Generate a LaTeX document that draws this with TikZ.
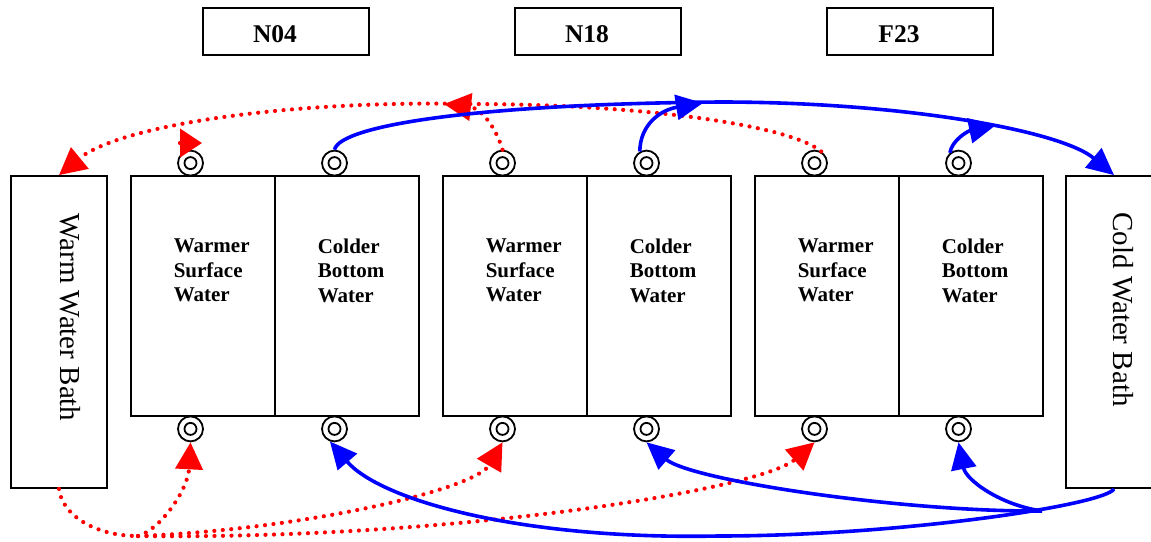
\documentclass[tikz,border=0pt]{standalone}
\usepackage{fontspec}
\setmainfont{Liberation Serif}
\usetikzlibrary{arrows.meta}
\begin{document}
\begin{tikzpicture}[x=1pt,y=-1pt,
		chamber/.style={draw,line width=1.8pt,inner sep=0pt,minimum width=144pt,minimum height=240pt},
		bath/.style={draw,line width=1.8pt,inner sep=0pt,minimum width=96pt,minimum height=312pt},
		port/.style={circle,draw,fill=white,line width=1.8pt,minimum size=25pt,inner sep=0pt,
			path picture={\draw[line width=1.8pt] (path picture bounding box.center) circle (6pt);}},
		tagbox/.style={draw,line width=1.8pt,inner sep=0pt,minimum width=166pt,minimum height=47pt},
		tagtext/.style={anchor=base,inner sep=0pt,font=\fontsize{25.5}{30}\selectfont\bfseries},
		chtext/.style={anchor=north west,inner sep=0pt,align=left,font=\fontsize{21}{24.5}\selectfont\bfseries},
		bathtext/.style={rotate=-90,anchor=base,inner sep=0pt,font=\fontsize{29}{34}\selectfont},
		redflow/.style={red,line width=4.2pt,dash pattern=on 0pt off 8.5pt,line cap=round,-{Triangle[length=27pt,width=27pt]}},
		blueflow/.style={blue,line width=3.6pt,-{Triangle[length=27pt,width=25pt]}}]
				\useasboundingbox (0,0) rectangle (1151,541);
				
				\node[tagbox] (n04) at (286,31.5) {};
				\node[tagbox] (n18) at (598,31.5) {};
				\node[tagbox] (f23) at (910,31.5) {};
				\node[tagtext] at ([xshift=-11pt,yshift=-10.5pt]n04.center) {N04};
				\node[tagtext] at ([xshift=-11pt,yshift=-10.5pt]n18.center) {N18};
				\node[tagtext] at ([xshift=-11pt,yshift=-10.5pt]f23.center) {F23};
				
				\node[bath] (warm) at (59,332) {};
				\node[bath] (cold) at (1114,332) {};
				\node[bathtext] at ([xshift=1pt,yshift=14.5pt]warm.center) {Warm Water Bath};
				\node[bathtext] at ([xshift=-1pt,yshift=22.5pt]cold.center) {Cold Water Bath};
				
				\node[chamber] (w1) at (203,296) {};
				\node[chamber] (c1) at (347,296) {};
				\node[chamber] (w2) at (515,296) {};
				\node[chamber] (c2) at (659,296) {};
				\node[chamber] (w3) at (827,296) {};
				\node[chamber] (c3) at (971,296) {};
				
				\node[chtext] at ([xshift=43.5pt,yshift=-63.5pt]w1.north west) {Warmer\\Surface\\Water};
				\node[chtext] at ([xshift=43.5pt,yshift=-63.5pt]c1.north west) {Colder\\Bottom\\Water};
				\node[chtext] at ([xshift=43.5pt,yshift=-63.5pt]w2.north west) {Warmer\\Surface\\Water};
				\node[chtext] at ([xshift=43.5pt,yshift=-63.5pt]c2.north west) {Colder\\Bottom\\Water};
				\node[chtext] at ([xshift=43.5pt,yshift=-63.5pt]w3.north west) {Warmer\\Surface\\Water};
				\node[chtext] at ([xshift=43.5pt,yshift=-63.5pt]c3.north west) {Colder\\Bottom\\Water};
				
				\node[port] (w1t) at ([xshift=-12.5pt,yshift=12pt]w1.north) {};
				\node[port] (c1t) at ([xshift=-12.5pt,yshift=12pt]c1.north) {};
				\node[port] (w2t) at ([xshift=-12.5pt,yshift=12pt]w2.north) {};
				\node[port] (c2t) at ([xshift=-12.5pt,yshift=12pt]c2.north) {};
				\node[port] (w3t) at ([xshift=-12.5pt,yshift=12pt]w3.north) {};
				\node[port] (c3t) at ([xshift=-12.5pt,yshift=12pt]c3.north) {};
				\node[port] (w1b) at ([xshift=-12.5pt,yshift=-12pt]w1.south) {};
				\node[port] (c1b) at ([xshift=-12.5pt,yshift=-12pt]c1.south) {};
				\node[port] (w2b) at ([xshift=-12.5pt,yshift=-12pt]w2.south) {};
				\node[port] (c2b) at ([xshift=-12.5pt,yshift=-12pt]c2.south) {};
				\node[port] (w3b) at ([xshift=-12.5pt,yshift=-12pt]w3.south) {};
				\node[port] (c3b) at ([xshift=-12.5pt,yshift=-12pt]c3.south) {};
				
				\coordinate (rk) at (180,143);
				\coordinate (rk2) at (202,143);
				\coordinate (rj) at (138,536);
				\coordinate (bj) at (1042,511);
				
				\draw[redflow] (w3t.60) .. controls (790,125) and (640,104) .. (470,104) .. controls (290,100) and (120,125) .. (warm.north);
				\draw[redflow] (w2t.north) .. controls (495,125) and (480,108) .. (444,104);
				\draw[redflow,-{Triangle[length=22pt,width=28pt]}] (rk) -- (rk2);
				\draw[redflow,-] (warm.south) .. controls (62,515) and (95,536) .. (rj);
				\draw[redflow] (rj) .. controls (160,530) and (188,490) .. (w1b.south);
				\draw[redflow] (rj) .. controls (300,530) and (475,490) .. (w2b.south);
				\draw[redflow] (rj) .. controls (450,540) and (760,490) .. (w3b.south);
				
				\draw[blueflow] (c1t.north) .. controls (340,125) and (480,104) .. (720,102) .. controls (900,102) and (1060,130) .. (cold.north);
				\draw[blueflow] (c2t.120) .. controls (640,125) and (660,110) .. (703,103);
				\draw[blueflow] (c3t.130) .. controls (952,140) and (968,131) .. (996,125);
				\draw[blueflow] (cold.south) .. controls (1105,505) and (900,536) .. (718,536) .. controls (520,540) and (380,500) .. (c1b.250);
				\draw[blueflow] (bj) .. controls (900,512) and (690,480) .. (c2b.south);
				\draw[blueflow] (bj) .. controls (1000,505) and (966,480) .. (c3b.south);
		\end{tikzpicture}
\end{document}
